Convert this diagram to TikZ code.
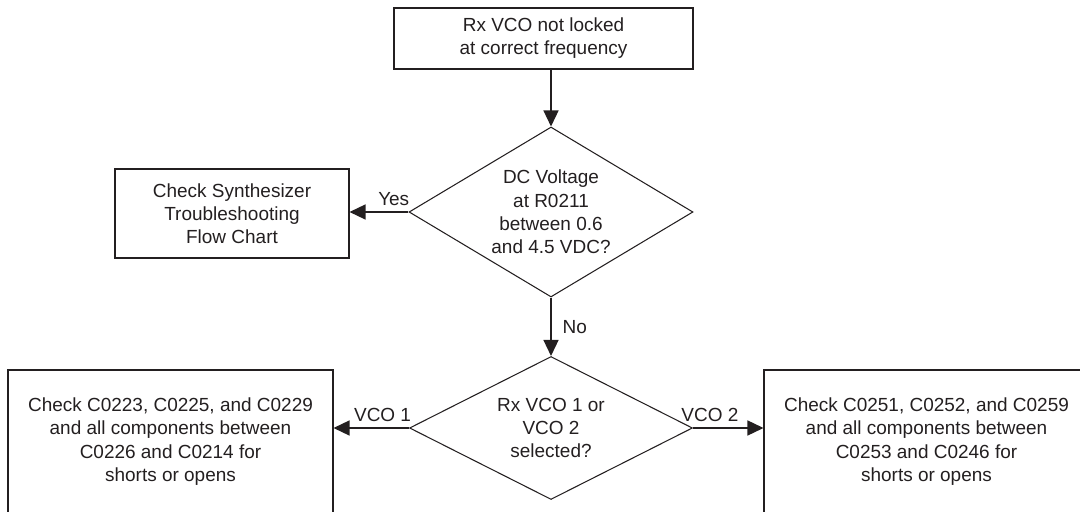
\documentclass[tikz,border=0pt]{standalone}
\usepackage{fontspec}
\setmainfont{Liberation Sans}
\usetikzlibrary{shapes.geometric,arrows.meta}
\definecolor{ink}{RGB}{35,31,32}
\begin{document}
\begin{tikzpicture}[
    box_style/.style={rectangle, draw=ink, line width=0.6pt, align=center, inner sep=0pt},
    diam_style/.style={diamond, draw=ink, line width=0.6pt, align=center, inner sep=0pt},
    arrow_style/.style={draw=ink, line width=0.8pt, -{Triangle[length=3.2mm, width=3mm]}},
    every node/.style={text=ink, font=\fontsize{10.8}{13.2}\selectfont}
]
\useasboundingbox (0,0) rectangle (21.6,10.22);
\clip (0,0) rectangle (21.6,10.22);
% Boites et decisions
\node[box_style, minimum width=5.98cm, minimum height=1.22cm] (s0) at (10.87, 9.45)
    {Rx VCO not locked\\at correct frequency};
\node[diam_style, aspect=1.67, minimum width=5.68cm, minimum height=3.4cm] (d1) at (11.02, 5.98)
    {DC Voltage\\at R0211\\between 0.6\\and 4.5 VDC?};
\node[box_style, minimum width=4.68cm, minimum height=1.78cm] (b1) at (4.64, 5.95)
    {Check Synthesizer\\Troubleshooting\\Flow Chart};
\node[diam_style, aspect=1.98, minimum width=5.66cm, minimum height=2.86cm] (d2) at (11.02, 1.66)
    {Rx VCO 1 or\\VCO 2\\selected?};
\node[box_style, minimum width=6.5cm, minimum height=2.86cm] (b2) at (3.41, 1.39)
    {Check C0223, C0225, and C0229\\and all components between\\C0226 and C0214 for\\shorts or opens};
\node[box_style, minimum width=6.5cm, minimum height=2.86cm] (b3) at (18.53, 1.39)
    {Check C0251, C0252, and C0259\\and all components between\\C0253 and C0246 for\\shorts or opens};
% Fleches
\draw[arrow_style] (s0.south -| d1.north) -- (d1.north);
\draw[arrow_style] (d1.west) -- node[above, pos=0.25] {Yes} (d1.west -| b1.east);
\draw[arrow_style] (d1.south) -- node[right=1mm, midway] {No} (d2.north);
\draw[arrow_style] (d2.west) -- node[above, pos=0.35] {VCO 1} (d2.west -| b2.east);
\draw[arrow_style] (d2.east) -- node[above, pos=0.24] {VCO 2} (d2.east -| b3.west);
\end{tikzpicture}
\end{document}
